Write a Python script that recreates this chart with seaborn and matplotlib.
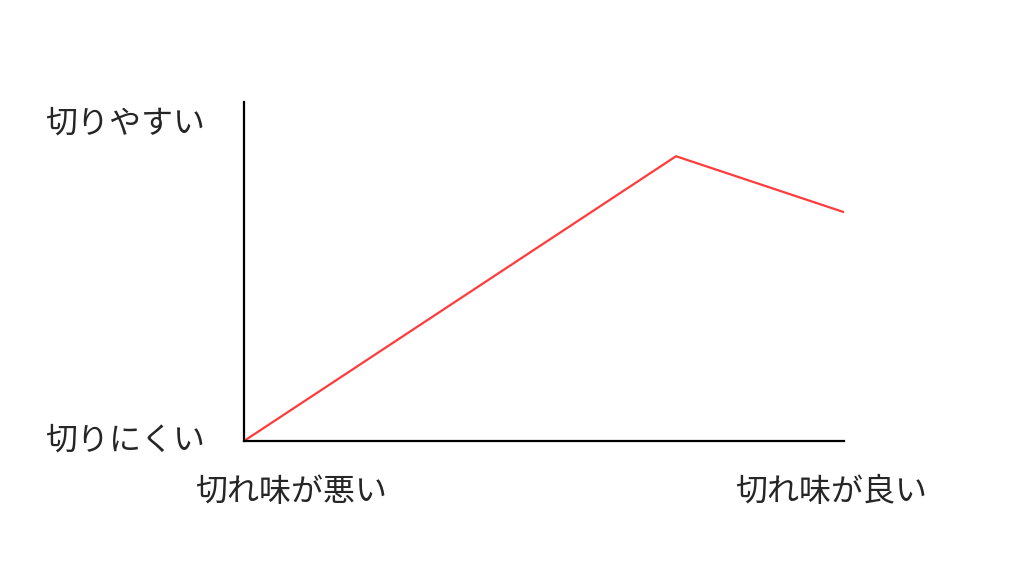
import matplotlib
matplotlib.use('Agg')
import matplotlib.pyplot as plt
import seaborn as sns
import pandas as pd

# 切れ味と切りやすさの関係（概念図）
sharpness = [0.0, 0.72, 1.0]
ease = [0.0, 0.84, 0.675]

x_tick_pos = [0.078, 0.978]
x_tick_labels = ['切れ味が悪い', '切れ味が良い']
y_tick_pos = [0.012, 0.947]
y_tick_labels = ['切りにくい', '切りやすい']

df = pd.DataFrame({'sharpness': sharpness, 'ease': ease})

sns.set_style('white')
plt.rcParams['font.family'] = ['Noto Sans CJK JP', 'DejaVu Sans']

fig = plt.figure(figsize=(10.24, 5.76), dpi=100)
ax = fig.add_axes([244 / 1024, 1 - 441 / 576, 600 / 1024, 339 / 576])

sns.lineplot(data=df, x='sharpness', y='ease', color='#ff3b3b', linewidth=1.6, ax=ax)

ax.set_xlim(0, 1)
ax.set_ylim(0, 1)
ax.set_xlabel('')
ax.set_ylabel('')

ax.set_xticks(x_tick_pos)
ax.set_xticklabels(x_tick_labels, fontsize=23)
ax.set_yticks(y_tick_pos)
ax.set_yticklabels(y_tick_labels, fontsize=23)
ax.tick_params(axis='x', length=0, pad=25)
ax.tick_params(axis='y', length=0, pad=28)

sns.despine(ax=ax)
for side in ['left', 'bottom']:
    ax.spines[side].set_color('black')
    ax.spines[side].set_linewidth(1.6)

fig.savefig('out.png', dpi=100)
